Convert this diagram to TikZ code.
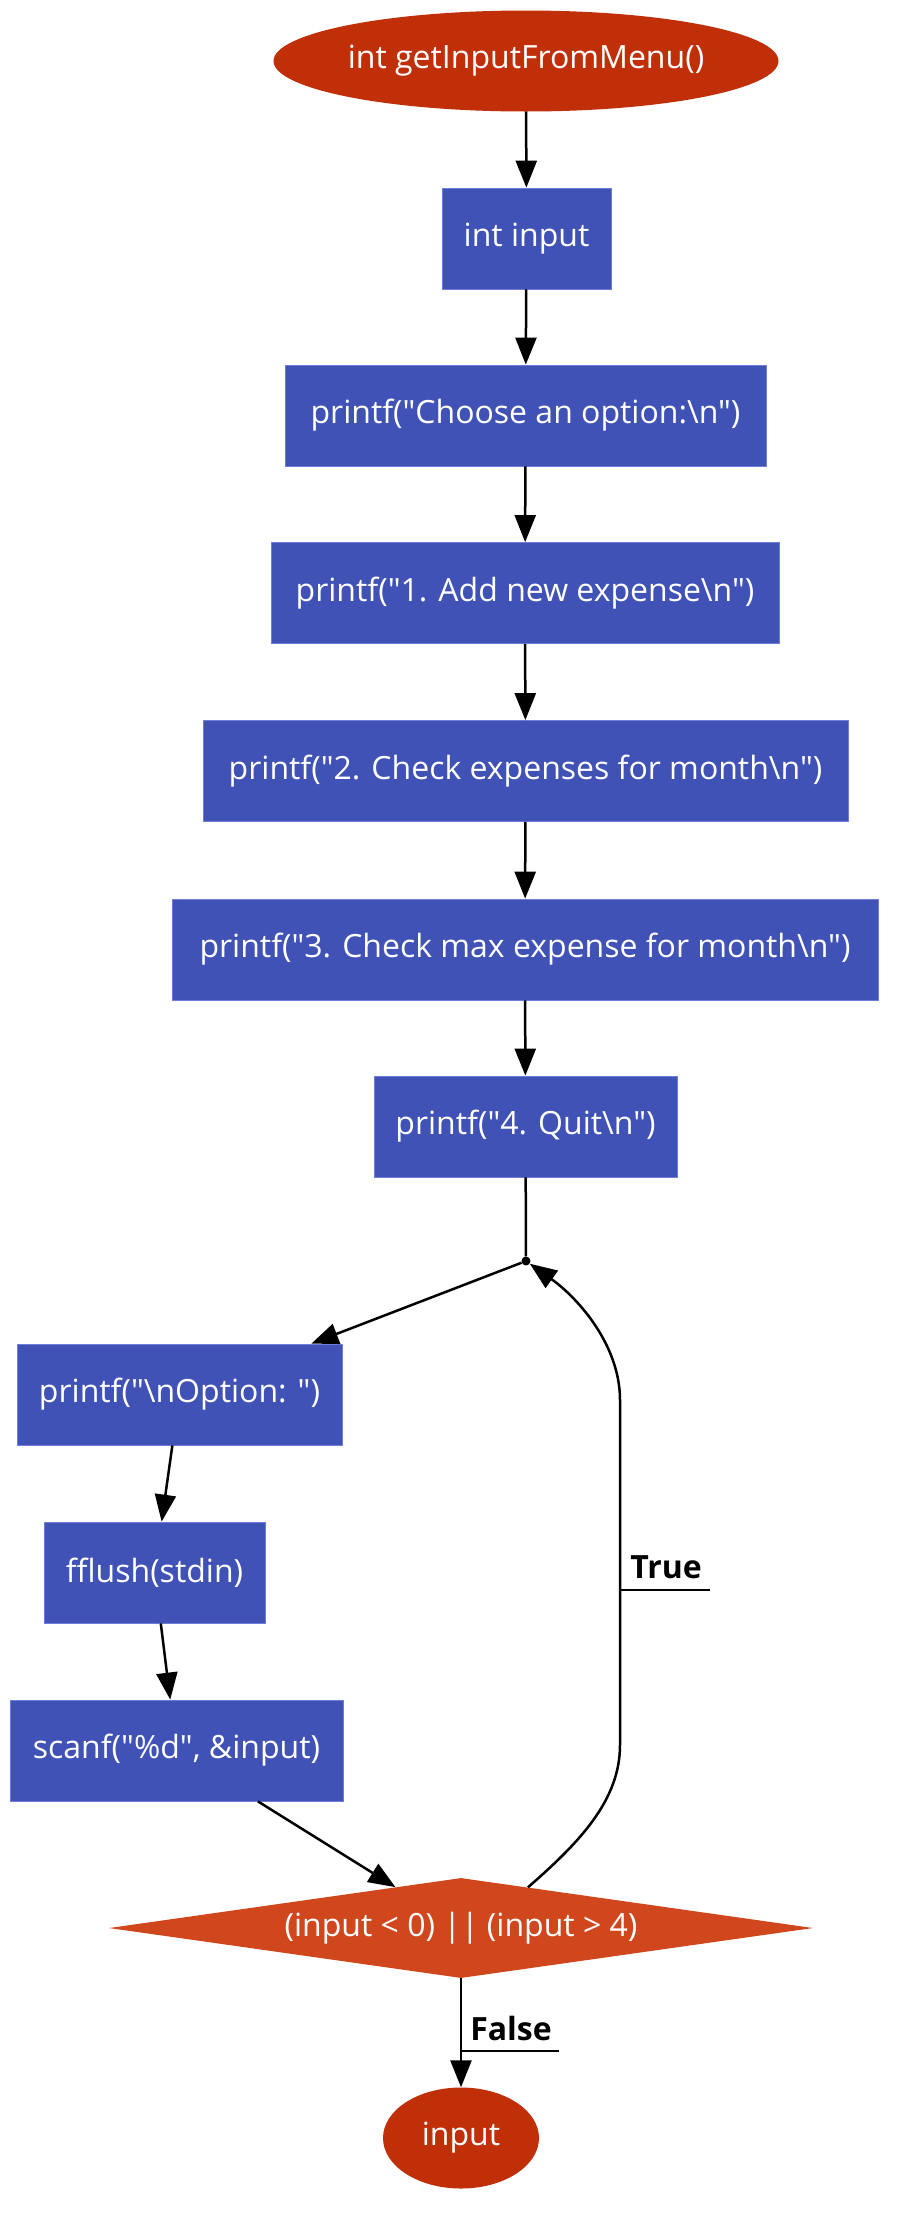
\documentclass[tikz,border=0pt]{standalone}
\usepackage{fontspec}
\newfontfamily\osf{Open Sans}
\usetikzlibrary{shapes.geometric,arrows.meta,calc}
\definecolor{boxblue}{RGB}{64,82,181}
\definecolor{boxedge}{RGB}{110,125,215}
\definecolor{termred}{RGB}{192,47,8}
\definecolor{decred}{RGB}{209,71,29}
\begin{document}
\begin{tikzpicture}[x=1pt,y=-1pt,
  txt/.style={text=white, font=\osf\fontsize{32}{38}\selectfont},
  box/.style={txt, rectangle, fill=boxblue, draw=boxedge, line width=0.8pt, minimum height=101pt, inner sep=0pt},
  term/.style={txt, ellipse, fill=termred, inner sep=0pt},
  dec/.style={txt, diamond, fill=decred, inner sep=0pt, aspect=7.04, minimum width=704pt, minimum height=100pt},
  conn/.style={line width=2.5pt, black},
  edge/.style={conn, -{Triangle[length=27pt,width=21pt]}},
  lbl/.style={font=\osf\fontsize{32}{38}\selectfont\bfseries, text=black, inner sep=0pt},
  uline/.style={line width=2.5pt, black}
]
\fill[white] (0,0) rectangle (903,2214);
\useasboundingbox (0,0) rectangle (903,2214);

\node[term, minimum width=505pt, minimum height=101pt] (n0) at (526,61) {int getInputFromMenu()};
\node[box, minimum width=169pt] (n1) at (526.5,238.5) {int input};
\node[box, minimum width=481pt] (n2) at (525.5,415.5) {printf("Choose an option:\textbackslash n")};
\node[box, minimum width=508pt] (n3) at (525,593) {printf("1. Add new expense\textbackslash n")};
\node[box, minimum width=645pt] (n4) at (525.5,771) {printf("2. Check expenses for month\textbackslash n")};
\node[box, minimum width=706pt] (n5) at (525,949.5) {printf("3. Check max expense for month\textbackslash n")};
\node[box, minimum width=303pt] (n6) at (525.5,1126.5) {printf("4. Quit\textbackslash n")};
\node[circle, fill=black, inner sep=0pt, minimum size=9pt] (j) at (526,1261) {};
\node[box, minimum width=325pt] (n7) at (179.5,1394.5) {printf("\textbackslash nOption: ")};
\node[box, minimum width=221pt] (n8) at (154.5,1572.5) {fflush(stdin)};
\node[box, minimum width=333pt] (n9) at (176.5,1750.5) {scanf("\%d", \&input)};
\node[dec] (n10) at (461,1928) {(input < 0) || (input > 4)};
\node[term, minimum width=156pt, minimum height=101pt] (n11) at (461,2138) {input};

\draw[edge] (n0) -- (n1);
\draw[edge] (n1) -- (n2);
\draw[edge] (n2) -- (n3);
\draw[edge] (n3) -- (n4);
\draw[edge] (n4) -- (n5);
\draw[edge] (n5) -- (n6);
\draw[conn] (n6) -- (j);
\draw[edge] (j) -- (n7);
\draw[edge] (n7) -- (n8);
\draw[edge] (n8) -- (n9);
\draw[edge] (n9) -- (n10);
\coordinate (ts) at ($(n10.north)!0.19!(n10.east)$);
\draw[edge] (ts) .. controls (580,1842) and (620,1800) .. (620,1745) -- (620,1400) .. controls (620,1345) and (578,1298) .. (j);
\draw[edge] (n10) -- (n11);

\node[lbl] (tl) at (666,1567) {True};
\coordinate (tu1) at (620,1590);
\coordinate (tu2) at (710,1590);
\draw[uline] (tu1) -- (tu2);
\node[lbl] (fl) at (511,2028) {False};
\coordinate (fu1) at (461,2051);
\coordinate (fu2) at (559,2051);
\draw[uline] (fu1) -- (fu2);
\end{tikzpicture}
\end{document}
